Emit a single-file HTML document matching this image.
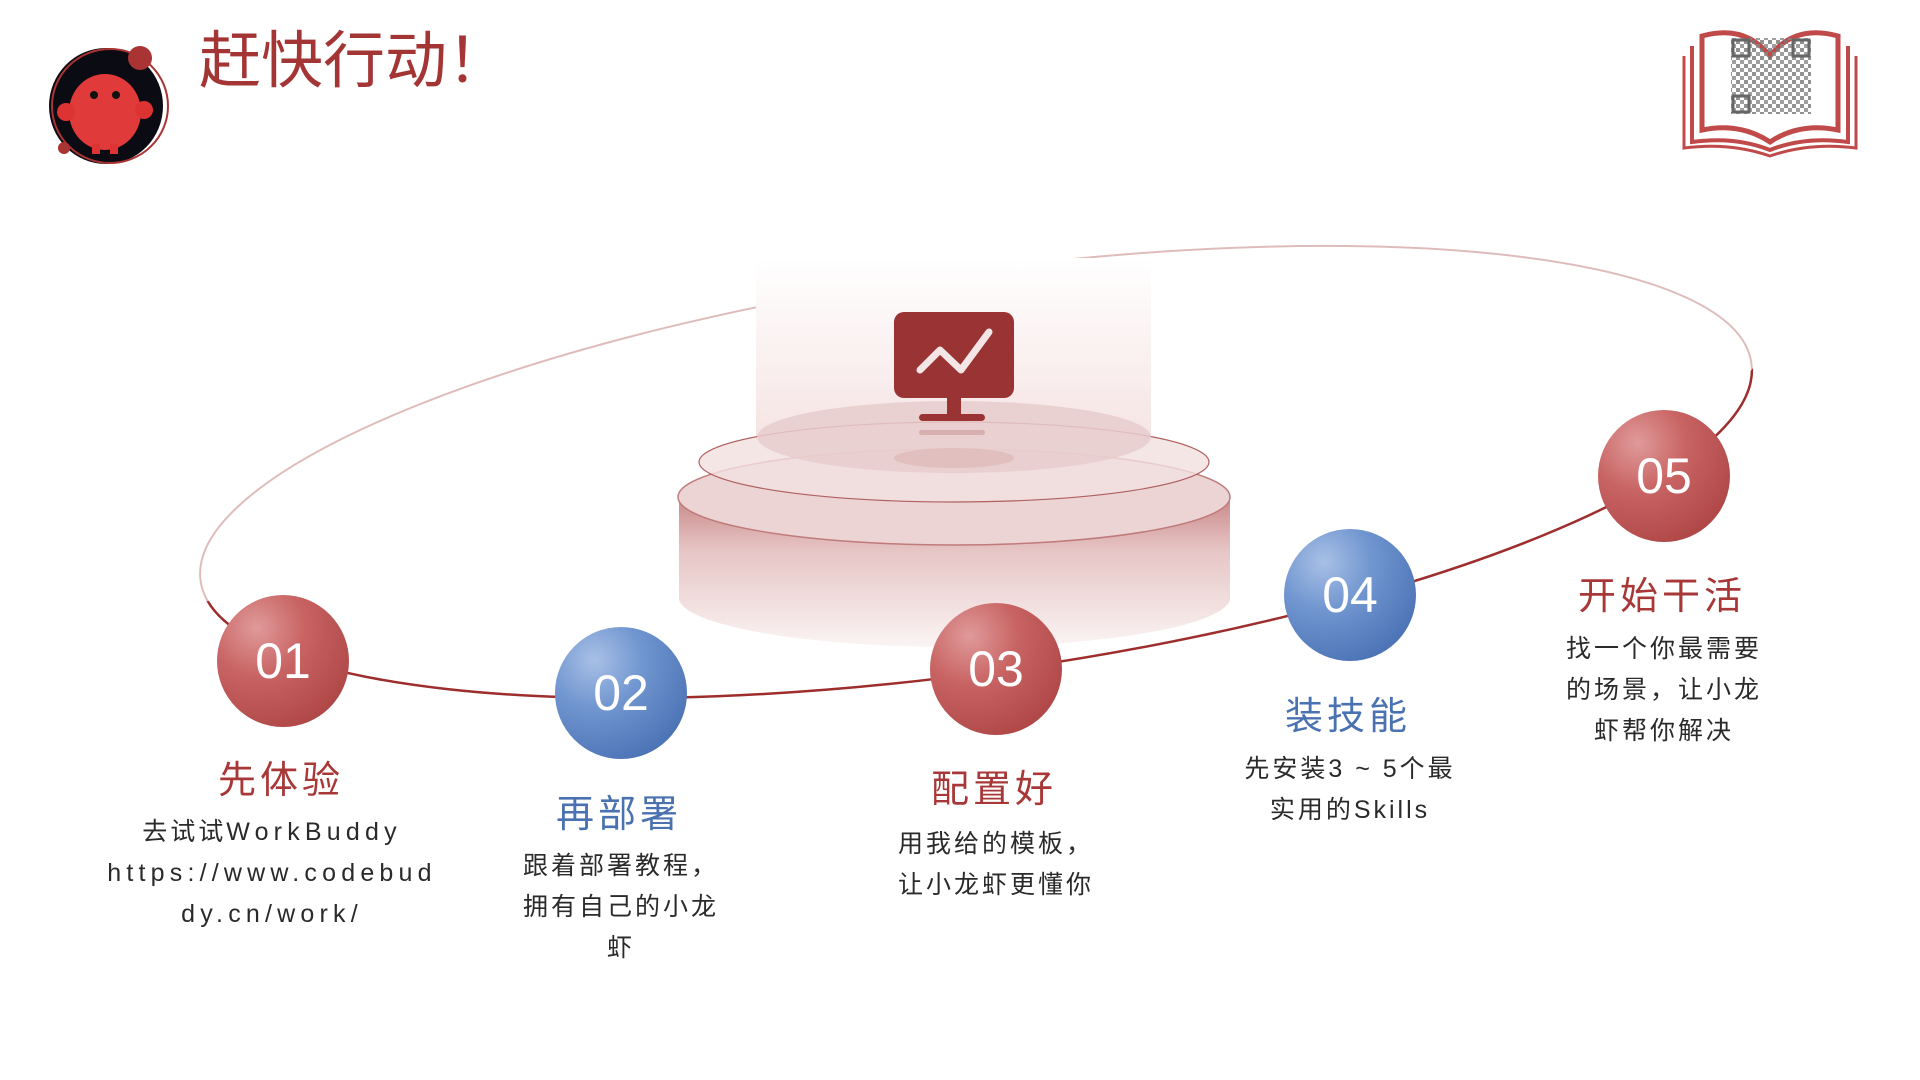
<!DOCTYPE html>
<html><head><meta charset="utf-8"><style>
html,body{margin:0;padding:0;background:#fff}
body{width:1920px;height:1080px;position:relative;overflow:hidden;font-family:"Liberation Sans","Noto Sans CJK SC",sans-serif}
.t{position:absolute;text-align:center;transform:translateX(-50%);white-space:nowrap}
.h{font-size:38px;letter-spacing:4px;line-height:44px}
.r{color:#a83838}.b{color:#4a72b0}
.d{font-size:25px;letter-spacing:3px;line-height:41px;color:#2a2a2a}
.l{letter-spacing:5.2px}
</style></head><body>
<svg width="1920" height="1080" style="position:absolute;left:0;top:0">
<defs>
<radialGradient id="rg" cx="30%" cy="25%" r="80%"><stop offset="0" stop-color="#e09a9a"/><stop offset="0.45" stop-color="#c96464"/><stop offset="1" stop-color="#b04848"/></radialGradient>
<radialGradient id="bg" cx="30%" cy="25%" r="80%"><stop offset="0" stop-color="#a8c0e6"/><stop offset="0.45" stop-color="#7196d0"/><stop offset="1" stop-color="#4d74b6"/></radialGradient>
<linearGradient id="cyl" x1="0" y1="0" x2="0" y2="1"><stop offset="0" stop-color="#c98888"/><stop offset="0.35" stop-color="#e6c4c4"/><stop offset="1" stop-color="#fbf4f4"/></linearGradient>
<linearGradient id="glow" x1="0" y1="0" x2="0" y2="1"><stop offset="0" stop-color="#fff" stop-opacity="1"/><stop offset="1" stop-color="#f6e4e4" stop-opacity="1"/></linearGradient>
<clipPath id="dark"><polygon points="0,625 1700,430 1760,360 1920,360 1920,1080 0,1080"/></clipPath>
<pattern id="qr" width="8" height="8" patternUnits="userSpaceOnUse"><rect width="4" height="4" fill="#777"/><rect x="4" y="4" width="4" height="4" fill="#888"/></pattern>
</defs>
<!-- logo -->
<ellipse cx="106" cy="106" rx="57" ry="58" fill="#0b0b14"/>
<ellipse cx="110" cy="106" rx="58" ry="57" fill="none" stroke="#a33" stroke-width="2"/>
<circle cx="140" cy="58" r="12" fill="#a33"/>
<circle cx="64" cy="148" r="6" fill="#a33"/>
<ellipse cx="105" cy="112" rx="36" ry="38" fill="#e03a3a"/>
<circle cx="66" cy="112" r="9" fill="#d33"/><circle cx="144" cy="110" r="9" fill="#d33"/>
<rect x="92" y="144" width="8" height="10" fill="#d33"/><rect x="110" y="144" width="8" height="10" fill="#d33"/>
<circle cx="94" cy="95" r="4" fill="#111"/><circle cx="116" cy="95" r="4" fill="#111"/>
<!-- orbit -->
<g transform="rotate(-8 976 472)">
<ellipse cx="976" cy="472" rx="783" ry="200" fill="none" stroke="#dfbcbc" stroke-width="2"/>
</g>
<g clip-path="url(#dark)"><g transform="rotate(-8 976 472)">
<ellipse cx="976" cy="472" rx="783" ry="200" fill="none" stroke="#9e2d2d" stroke-width="2.5"/>
</g></g>
<!-- platform -->
<rect x="756" y="258" width="395" height="180" fill="url(#glow)"/>
<path d="M679 497 L679 600 A276 50 0 0 0 1230 600 L1230 497 Z" fill="url(#cyl)"/>
<ellipse cx="954" cy="497" rx="276" ry="48" fill="#ecd4d4" stroke="#c07a7a" stroke-width="1.5"/>
<ellipse cx="954" cy="462" rx="255" ry="40" fill="#f2e0e0" fill-opacity="0.8" stroke="#b06060" stroke-width="1.2"/>
<ellipse cx="954" cy="437" rx="197" ry="36" fill="#e8cccc" fill-opacity="0.85"/>
<ellipse cx="954" cy="458" rx="60" ry="10" fill="#dcb4b4" opacity="0.6"/>
<!-- monitor -->
<rect x="894" y="312" width="120" height="86" rx="10" fill="#9a3333"/>
<rect x="947" y="396" width="14" height="20" fill="#9a3333"/>
<rect x="919" y="414" width="66" height="7" rx="3.5" fill="#9a3333"/>
<rect x="919" y="430" width="66" height="5" rx="2.5" fill="#c99" opacity="0.6"/>
<polyline points="920,370 940,350 961,370 989,332" fill="none" stroke="#f4e6e6" stroke-width="7" stroke-linecap="round" stroke-linejoin="round"/>
<!-- circles -->
<circle cx="283" cy="661" r="66" fill="url(#rg)"/>
<circle cx="621" cy="693" r="66" fill="url(#bg)"/>
<circle cx="996" cy="669" r="66" fill="url(#rg)"/>
<circle cx="1350" cy="595" r="66" fill="url(#bg)"/>
<circle cx="1664" cy="476" r="66" fill="url(#rg)"/>
<g font-family="Liberation Sans Narrow, Liberation Sans, sans-serif" font-size="50" fill="#fff" text-anchor="middle">
<text x="283" y="678">01</text><text x="621" y="710">02</text><text x="996" y="686">03</text><text x="1350" y="612">04</text><text x="1664" y="493">05</text>
</g>
<!-- book -->
<path d="M1702 36 Q1745 24 1770 56 Q1795 24 1838 36 L1838 130 Q1800 122 1770 142 Q1740 122 1702 130 Z" fill="none" stroke="#c04a4a" stroke-width="5"/>
<path d="M1692 46 L1692 142 Q1735 136 1770 150 Q1805 136 1848 142 L1848 46" fill="none" stroke="#c04a4a" stroke-width="4"/>
<path d="M1684 56 L1684 148 Q1730 142 1770 156 Q1810 142 1856 148 L1856 56" fill="none" stroke="#c04a4a" stroke-width="3"/>
<rect x="1731" y="38" width="80" height="76" fill="url(#qr)" opacity="0.8"/>
<rect x="1733" y="40" width="16" height="16" fill="none" stroke="#666" stroke-width="3"/>
<rect x="1793" y="40" width="16" height="16" fill="none" stroke="#666" stroke-width="3"/>
<rect x="1733" y="96" width="16" height="16" fill="none" stroke="#666" stroke-width="3"/>
</svg>
<div style="position:absolute;left:199px;top:22px;font-size:62px;color:#a33535;line-height:80px">赶快行动！</div>

<div class="t h r" style="left:281px;top:759px">先体验</div>
<div class="t d" style="left:272px;top:812px">去试试<span class="l">WorkBuddy</span><br><span class="l">https://www.codebud</span><br><span class="l">dy.cn/work/</span></div>

<div class="t h b" style="left:619px;top:793px">再部署</div>
<div class="t d" style="left:621px;top:846px">跟着部署教程，<br>拥有自己的小龙<br>虾</div>

<div class="t h r" style="left:994px;top:768px">配置好</div>
<div class="t d" style="left:996px;top:824px">用我给的模板，<br>让小龙虾更懂你</div>

<div class="t h b" style="left:1348px;top:695px">装技能</div>
<div class="t d" style="left:1350px;top:749px">先安装3 ~ 5个最<br>实用的Skills</div>

<div class="t h r" style="left:1662px;top:575px">开始干活</div>
<div class="t d" style="left:1664px;top:629px">找一个你最需要<br>的场景，让小龙<br>虾帮你解决</div>
</body></html>
